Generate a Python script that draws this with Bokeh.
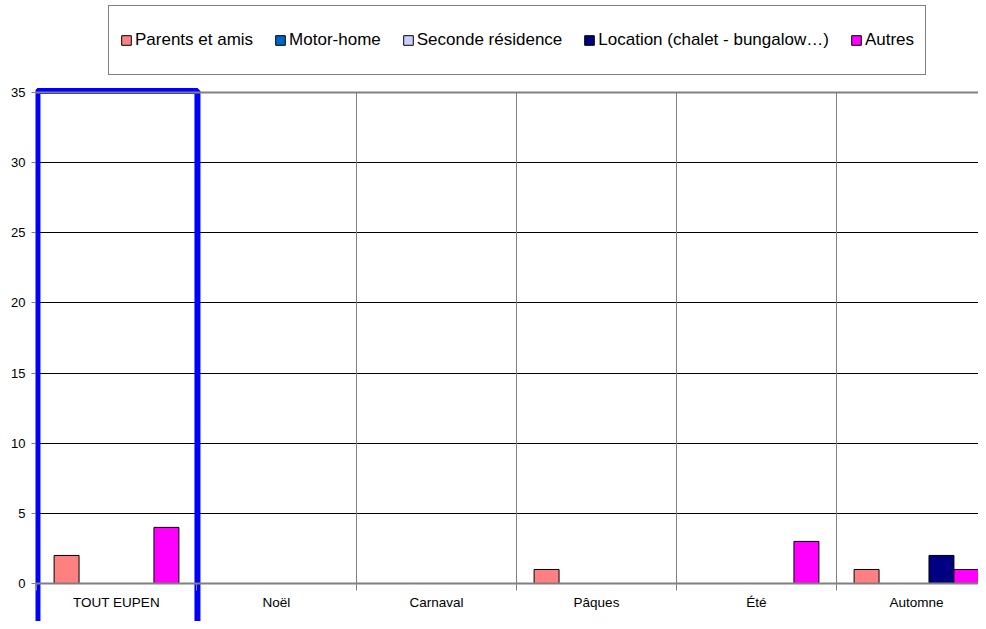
from bokeh.plotting import figure
from bokeh.models import Range1d, FixedTicker, Legend, LegendItem, Span, ColumnDataSource
from bokeh.transform import dodge
from bokeh.embed import file_html
from bokeh.resources import INLINE

categories = ["TOUT EUPEN", "Noël", "Carnaval", "Pâques", "Été", "Automne"]
series_names = ["Parents et amis", "Motor-home", "Seconde résidence",
                "Location (chalet - bungalow…)", "Autres"]
parents_et_amis = [2, 0, 0, 1, 0, 1]
motor_home = [0, 0, 0, 0, 0, 0]
seconde_residence = [0, 0, 0, 0, 0, 0]
location_chalet = [0, 0, 0, 0, 0, 2]
autres = [4, 0, 0, 0, 3, 1]
y_ticks = [0, 5, 10, 15, 20, 25, 30, 35]
colors = ["#FF8080", "#0066CC", "#CCCCFF", "#000080", "#FF00FF"]

series = [parents_et_amis, motor_home, seconde_residence, location_chalet, autres]
n = len(categories)
centers = [i + 0.5 for i in range(n)]
data = {"x": centers}
for k, s in enumerate(series):
    data[f"s{k}"] = s
src = ColumnDataSource(data)

W, H = 978, 621
LEFT = 35
px_x = 160.0
px_y = 491 / 35.0
x0 = -1 / px_x
p = figure(width=W, height=H,
           x_range=Range1d(x0, x0 + (W - LEFT) / px_x),
           y_range=Range1d(-(H - 583) / px_y, 35 + 92 / px_y),
           output_backend="svg", toolbar_location=None,
           min_border_left=LEFT, min_border_right=0, min_border_top=0, min_border_bottom=0)
p.outline_line_color = None
p.background_fill_color = "white"
p.border_fill_color = "white"

# grid
p.xgrid.visible = False
p.ygrid.ticker = FixedTicker(ticks=y_ticks[1:-1], minor_ticks=[])
p.ygrid.grid_line_color = "black"
p.ygrid.grid_line_width = 1

# category dividers
p.segment(x0=list(range(1, n)), x1=list(range(1, n)), y0=0, y1=max(y_ticks),
          line_color="#808080", line_width=1)

bw = 0.156
renderers = []
for k in range(len(series)):
    off = (k - 2) * bw
    r = p.vbar(x=dodge("x", off, range=p.x_range), top=f"s{k}", width=bw, source=src,
               fill_color=colors[k], line_color="black", line_width=1)
    renderers.append(r)

p.add_layout(Span(location=max(y_ticks), dimension="width", line_color="#808080", line_width=2))

# highlight box around the first category
p.quad(left=[0.006], right=[1.006], top=[35.1], bottom=[-10], fill_color=None,
       line_color="#0000FF", line_width=6)

# axes
xa = p.xaxis[0]
xa.fixed_location = 0
xa.ticker = FixedTicker(ticks=centers, minor_ticks=list(range(0, n + 1)))
xa.major_label_overrides = {c: name for c, name in zip(centers, categories)}
xa.major_tick_line_color = None
xa.major_tick_out = 0
xa.major_tick_in = 0
xa.minor_tick_out = 7
xa.minor_tick_in = 0
xa.minor_tick_line_color = "#808080"
xa.axis_line_color = "#808080"
xa.axis_line_width = 2
xa.major_label_standoff = 4
xa.major_label_text_font = "Liberation Sans"
xa.major_label_text_font_size = "13.5px"
xa.major_label_text_color = "black"

ya = p.yaxis[0]
ya.ticker = FixedTicker(ticks=y_ticks, minor_ticks=[])
ya.axis_line_color = None
ya.major_tick_out = 4
ya.major_tick_in = 0
ya.major_tick_line_color = "#808080"
ya.major_label_standoff = 6
ya.major_label_text_font = "Liberation Sans"
ya.major_label_text_font_size = "13px"
ya.major_label_text_color = "black"

legend = Legend(items=[LegendItem(label=nm, renderers=[r]) for nm, r in zip(series_names, renderers)],
                orientation="horizontal", location=(108 - LEFT, H - 75),
                glyph_width=12, glyph_height=12, label_standoff=3, spacing=21,
                padding=11, label_height=46,
                label_text_font="Liberation Sans", label_text_font_size="17px",
                label_text_color="black",
                border_line_color="black", border_line_width=1,
                background_fill_color="white", background_fill_alpha=1.0)
p.add_layout(legend, "center")

open("out.html", "w").write(file_html(p, INLINE))
